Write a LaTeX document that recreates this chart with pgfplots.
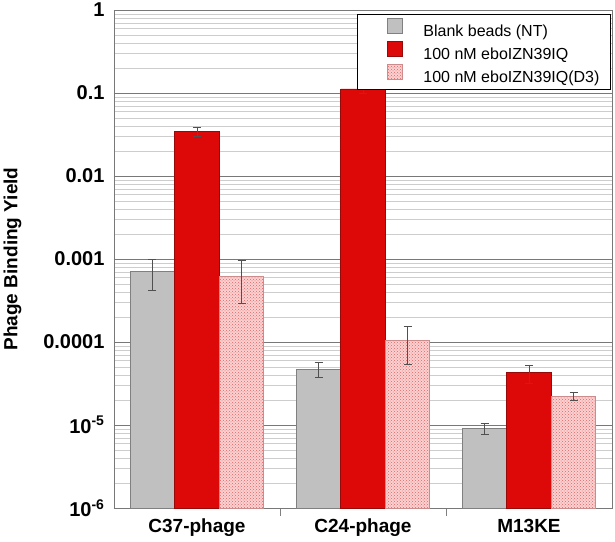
\documentclass[border=0pt]{standalone}
\usepackage{fontspec}
\setmainfont{Liberation Sans}
\usepackage{pgfplots}
\pgfplotsset{compat=1.18}
\usetikzlibrary{patterns}
\definecolor{barGray}{RGB}{192,192,192}
\definecolor{barGrayEdge}{RGB}{128,128,128}
\definecolor{barRed}{RGB}{221,8,8}
\definecolor{barRedEdge}{RGB}{150,10,10}
\definecolor{patBack}{RGB}{250,208,208}
\definecolor{patRed}{RGB}{228,100,100}
\definecolor{patEdge}{RGB}{205,140,140}
\definecolor{errCol}{RGB}{80,80,80}
\definecolor{majGrid}{RGB}{120,120,120}
\definecolor{minGrid}{RGB}{205,205,205}
\begin{document}
\begin{tikzpicture}
\begin{axis}[
  name=ax,
  scale only axis, width=498pt, height=498pt,
  ymode=log, ymin=1e-6, ymax=1, log origin=infty,
  xmin=-0.5, xmax=2.5,
  xtick={0,1,2}, xticklabels={C37-phage,C24-phage,M13KE},
  major x tick style={draw=none},
  minor xtick={0.5,1.5},
  minor tick length=8pt,
  minor x tick style={draw=barGrayEdge, line width=0.8pt},
  xtick pos=bottom,
  ytick={1e-6,1e-5,1e-4,1e-3,1e-2,1e-1,1},
  yticklabels={10\textsuperscript{-6},10\textsuperscript{-5},0.0001,0.001,0.01,0.1,1},
  ytick pos=left,
  major y tick style={draw=majGrid},
  minor y tick style={draw=none},
  ymajorgrids, yminorgrids,
  major grid style={draw=majGrid, line width=0.6pt},
  minor grid style={draw=minGrid, line width=0.5pt},
  axis line style={draw=majGrid, line width=0.8pt},
  /pgf/number format/assume math mode=true,
  yticklabel style={font=\bfseries\fontsize{20}{22}\selectfont, xshift=-6pt, inner ysep=0pt},
  xticklabel style={font=\bfseries\fontsize{19}{21}\selectfont, yshift=-3pt},
  ylabel={Phage Binding Yield},
  ylabel style={font=\bfseries\fontsize{19}{22}\selectfont, at={(axis description cs:-0.179,0.5)}, anchor=south},
  ybar=0pt, bar width=44.5pt,
  legend style={at={(1,1)}, anchor=north east, yshift=-4pt, xshift=-1pt,
    draw=black, line width=1pt, font=\fontsize{16}{20}\selectfont,
    inner xsep=9pt, inner ysep=4pt, cells={anchor=west},
    row sep=1pt},
  legend image code/.code={\path (0pt,0pt); \path (54pt,0pt); \draw[#1, line width=0.5pt] (20pt,-2pt) rectangle (35pt,13pt);},
  error bars/error bar style={draw=errCol, line width=0.7pt},
  error bars/error mark options={rotate=90, mark size=4pt, draw=errCol, line width=0.7pt},
]
\addplot[fill=barGray, draw=barGrayEdge, line width=0.7pt,
  error bars/.cd, y dir=both, y explicit]
  coordinates {(0,7.1e-4) +- (0,2.9e-4) (1,4.7e-5) +- (0,9.2e-6) (2,9.1e-6) +- (0,1.4e-6)};
\addlegendentry{Blank beads (NT)}
\addplot[fill=barRed, draw=barRedEdge, line width=0.7pt,
  error bars/.cd, y dir=both, y explicit]
  coordinates {(0,0.0345) +- (0,0.0045) (1,0.112) +- (0,0.013) (2,4.25e-5) +- (0,1.04e-5)};
\addlegendentry{100 nM eboIZN39IQ}
\addplot[fill=patBack, postaction={pattern=crosshatch dots, pattern color=patRed}, draw=patEdge, line width=0.7pt,
  error bars/.cd, y dir=both, y explicit]
  coordinates {(0,6.2e-4) +- (0,3.3e-4) (1,1.04e-4) +- (0,5e-5) (2,2.22e-5) +- (0,2.5e-6)};
\addlegendentry{100 nM eboIZN39IQ(D3)}
\end{axis}
\path (ax.south west) ++(-114pt,-34pt);
\path (ax.north east) ++(3pt,10pt);
\end{tikzpicture}
\end{document}
